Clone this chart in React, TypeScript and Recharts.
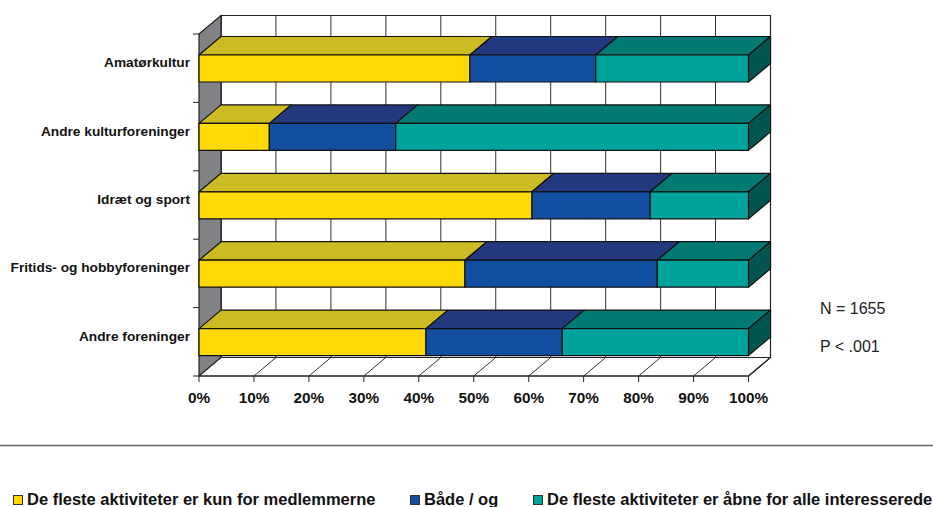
import { BarChart, Bar, XAxis, YAxis, CartesianGrid, Legend, Customized } from 'recharts';

const categories = ['Amatørkultur', 'Andre kulturforeninger', 'Idræt og sport', 'Fritids- og hobbyforeninger', 'Andre foreninger'];
const kunMedlemmer = [49.3, 12.8, 60.6, 48.4, 41.3];
const baadeOg = [22.9, 23.0, 21.5, 35.0, 24.8];
const aabne = [27.8, 64.2, 17.9, 16.6, 33.9];
const percentTicks = [0, 10, 20, 30, 40, 50, 60, 70, 80, 90, 100];
const seriesNames = [
  'De fleste aktiviteter er kun for medlemmerne',
  'Både / og',
  'De fleste aktiviteter er åbne for alle interesserede',
];
const notes = ['N = 1655', 'P < .001'];

const chartData = categories.map((name, i) => ({
  name,
  kun: kunMedlemmer[i],
  begge: baadeOg[i],
  aabne: aabne[i],
}));

const FONT = '"Liberation Sans", Arial, sans-serif';
const LEFT = 199;
const RIGHT = 748.5;
const TOP = 34;
const BOTTOM = 376;
const DX = 22;
const DY = 18.5;
const BAND = (BOTTOM - TOP) / categories.length;
const LINE = '#222';

// 3d box: front face + top face, side face only on the last series
const box3d = (front: string, top: string, side?: string) => (props: any) => {
  const { x, y, width, height } = props;
  return (
    <g stroke="#111" strokeWidth={1.2} strokeLinejoin="round">
      <path fill={top} d={`M${x},${y}L${x + DX},${y - DY}L${x + width + DX},${y - DY}L${x + width},${y}Z`} />
      {side && (
        <path
          fill={side}
          d={`M${x + width},${y}L${x + width + DX},${y - DY}L${x + width + DX},${y + height - DY}L${x + width},${y + height}Z`}
        />
      )}
      <rect x={x} y={y} width={width} height={height} fill={front} />
    </g>
  );
};

// back wall, left wall, floor
const Walls = () => (
  <g>
    <path d={`M${LEFT + DX},${TOP - DY}H${RIGHT + DX}V${BOTTOM - DY}H${LEFT + DX}Z`} fill="none" stroke={LINE} strokeWidth={1.2} />
    <path
      d={`M${LEFT},${TOP}L${LEFT + DX},${TOP - DY}V${BOTTOM - DY}L${LEFT},${BOTTOM}Z`}
      fill="#808285"
      stroke={LINE}
      strokeWidth={1.2}
    />
    <path d={`M${LEFT},${BOTTOM}H${RIGHT}L${RIGHT + DX},${BOTTOM - DY}`} fill="none" stroke={LINE} strokeWidth={1.4} />
    <line x1={0} x2={933} y1={445.5} y2={445.5} stroke="#666" strokeWidth={1.5} />
    {notes.map((t, i) => (
      <text key={t} x={820} y={314 + i * 38} fontFamily={FONT} fontSize={16} fill="#222">
        {t}
      </text>
    ))}
  </g>
);

const GridLine = (props: any) => {
  const { x1 } = props;
  return (
    <g key={props.key} stroke="#333" strokeWidth={1}>
      <line x1={x1 + DX} x2={x1 + DX} y1={TOP - DY} y2={BOTTOM - DY} />
      <line x1={x1} x2={x1 + DX} y1={BOTTOM} y2={BOTTOM - DY} />
    </g>
  );
};

const PercentTick = (props: any) => {
  const { x, payload } = props;
  return (
    <g>
      <line x1={x} x2={x} y1={BOTTOM} y2={BOTTOM + 6} stroke={LINE} strokeWidth={1} />
      <text x={x} y={402.5} textAnchor="middle" fontFamily={FONT} fontSize={15.3} fontWeight={700} fill="#111">
        {`${payload.value}%`}
      </text>
    </g>
  );
};

const CategoryTick = (props: any) => {
  const { y, payload, index } = props;
  return (
    <g>
      <line x1={LEFT - 6} x2={LEFT} y1={y - BAND / 2} y2={y - BAND / 2} stroke={LINE} strokeWidth={1} />
      {index === categories.length - 1 && (
        <line x1={LEFT - 6} x2={LEFT} y1={y + BAND / 2} y2={y + BAND / 2} stroke={LINE} strokeWidth={1} />
      )}
      <text x={190} y={y - 1} textAnchor="end" fontFamily={FONT} fontSize={13.7} fontWeight={700} fill="#111">
        {payload.value}
      </text>
    </g>
  );
};

const LegendRow = ({ payload }: any) => (
  <div style={{ position: 'relative', height: 20 }}>
    {(payload || []).map((item: any, i: number) => (
      <span
        key={item.value}
        style={{
          position: 'absolute',
          left: [13, 410, 533][i],
          top: 0,
          whiteSpace: 'nowrap',
          fontFamily: FONT,
          fontSize: 16.5,
          lineHeight: '20px',
          fontWeight: 700,
          color: '#111',
        }}
      >
        <span
          style={{
            display: 'inline-block',
            boxSizing: 'border-box',
            width: 10,
            height: 10,
            marginRight: 4,
            background: item.color,
            border: '1px solid #333',
          }}
        />
        {item.value}
      </span>
    ))}
  </div>
);

export default function App() {
  return (
    <div style={{ position: 'absolute', left: 0, top: 0, width: 933, height: 507, overflow: 'hidden', background: '#fff' }}>
      <BarChart
        width={933}
        height={507}
        data={chartData}
        layout="vertical"
        stackOffset="none"
        margin={{ top: TOP, right: 933 - RIGHT, bottom: 101, left: 0 }}
      >
        <Customized component={Walls} />
        <CartesianGrid horizontal={false} vertical={GridLine} stroke="#444" />
        <XAxis
          type="number"
          domain={[0, 100]}
          ticks={percentTicks}
          interval={0}
          height={30}
          axisLine={false}
          tickLine={false}
          tick={PercentTick}
        />
        <YAxis type="category" dataKey="name" width={LEFT} interval={0} axisLine={false} tickLine={false} tick={CategoryTick} />
        <Legend
          layout="horizontal"
          align="center"
          verticalAlign="middle"
          itemSorter={null}
          content={LegendRow}
          wrapperStyle={{ position: 'absolute', left: 0, top: 489, width: 933, height: 20 }}
        />
        <Bar dataKey="kun" name={seriesNames[0]} stackId="a" barSize={27} fill="#FFD808" isAnimationActive={false} shape={box3d('#FFD808', '#CCBB22')} />
        <Bar dataKey="begge" name={seriesNames[1]} stackId="a" barSize={27} fill="#134FA0" isAnimationActive={false} shape={box3d('#134FA0', '#24387F')} />
        <Bar dataKey="aabne" name={seriesNames[2]} stackId="a" barSize={27} fill="#00A39B" isAnimationActive={false} shape={box3d('#00A39B', '#007A72', '#00554F')} />
      </BarChart>
    </div>
  );
}
